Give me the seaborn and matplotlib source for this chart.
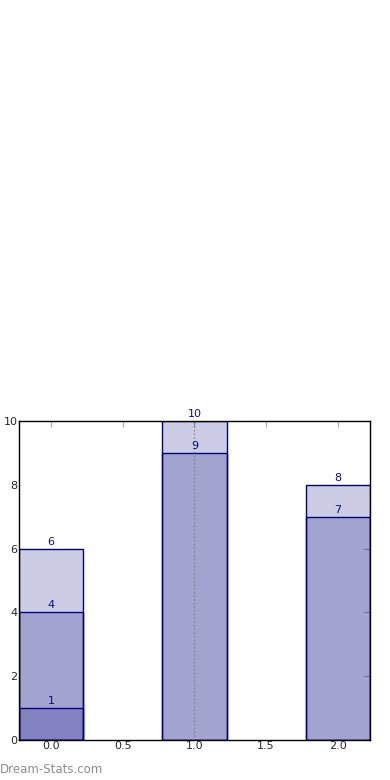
import seaborn as sns
import matplotlib.pyplot as plt
import pandas as pd

positions = [0, 1, 2]
back_values = [6, 10, 8]
mid_values = [4, 9, 7]
front_positions = [0]
front_values = [1]

sns.set_style('white')
plt.rcParams['font.family'] = ['DejaVu Sans']

fig = plt.figure(figsize=(3.9, 7.8), dpi=100)
ax = fig.add_axes([0.0487, 0.0513, 0.9, 0.4090])

layers = [
    (positions, back_values),
    (positions, mid_values),
    (front_positions, front_values),
]
for xs, ys in layers:
    df = pd.DataFrame({'x': xs, 'y': ys})
    sns.barplot(data=df, x='x', y='y', native_scale=True, width=0.45,
                color='navy', saturation=1, ax=ax, errorbar=None)
    for x, y in zip(xs, ys):
        ax.text(x, y + 0.06, str(y), ha='center', va='bottom',
                fontsize=8, color='#0a0a8c')

# translucent fill, solid outline
for p in ax.patches:
    p.set_alpha(None)
    p.set_facecolor((0, 0, 0.502, 0.2))
    p.set_edgecolor('navy')
    p.set_linewidth(1)

ax.axvline(1, ls=':', color='gray', lw=1)

ax.set_xlim(-0.225, 2.225)
ax.set_ylim(0, 10)
ax.set_xticks([0, 0.5, 1, 1.5, 2])
ax.set_xticklabels(['0.0', '0.5', '1.0', '1.5', '2.0'])
ax.set_yticks([0, 2, 4, 6, 8, 10])
ax.set_xlabel('')
ax.set_ylabel('')
ax.tick_params(direction='in', length=4, color='#aaaaaa', labelsize=8,
               top=True, right=True, pad=1)
for s in ax.spines.values():
    s.set_visible(True)
    s.set_color('black')
    s.set_linewidth(1)

fig.text(0.0, 0.005, 'Dream-Stats.com', color='#8c8c8c', fontsize=8.5,
         ha='left', va='bottom')

fig.savefig('out.png', dpi=100)
